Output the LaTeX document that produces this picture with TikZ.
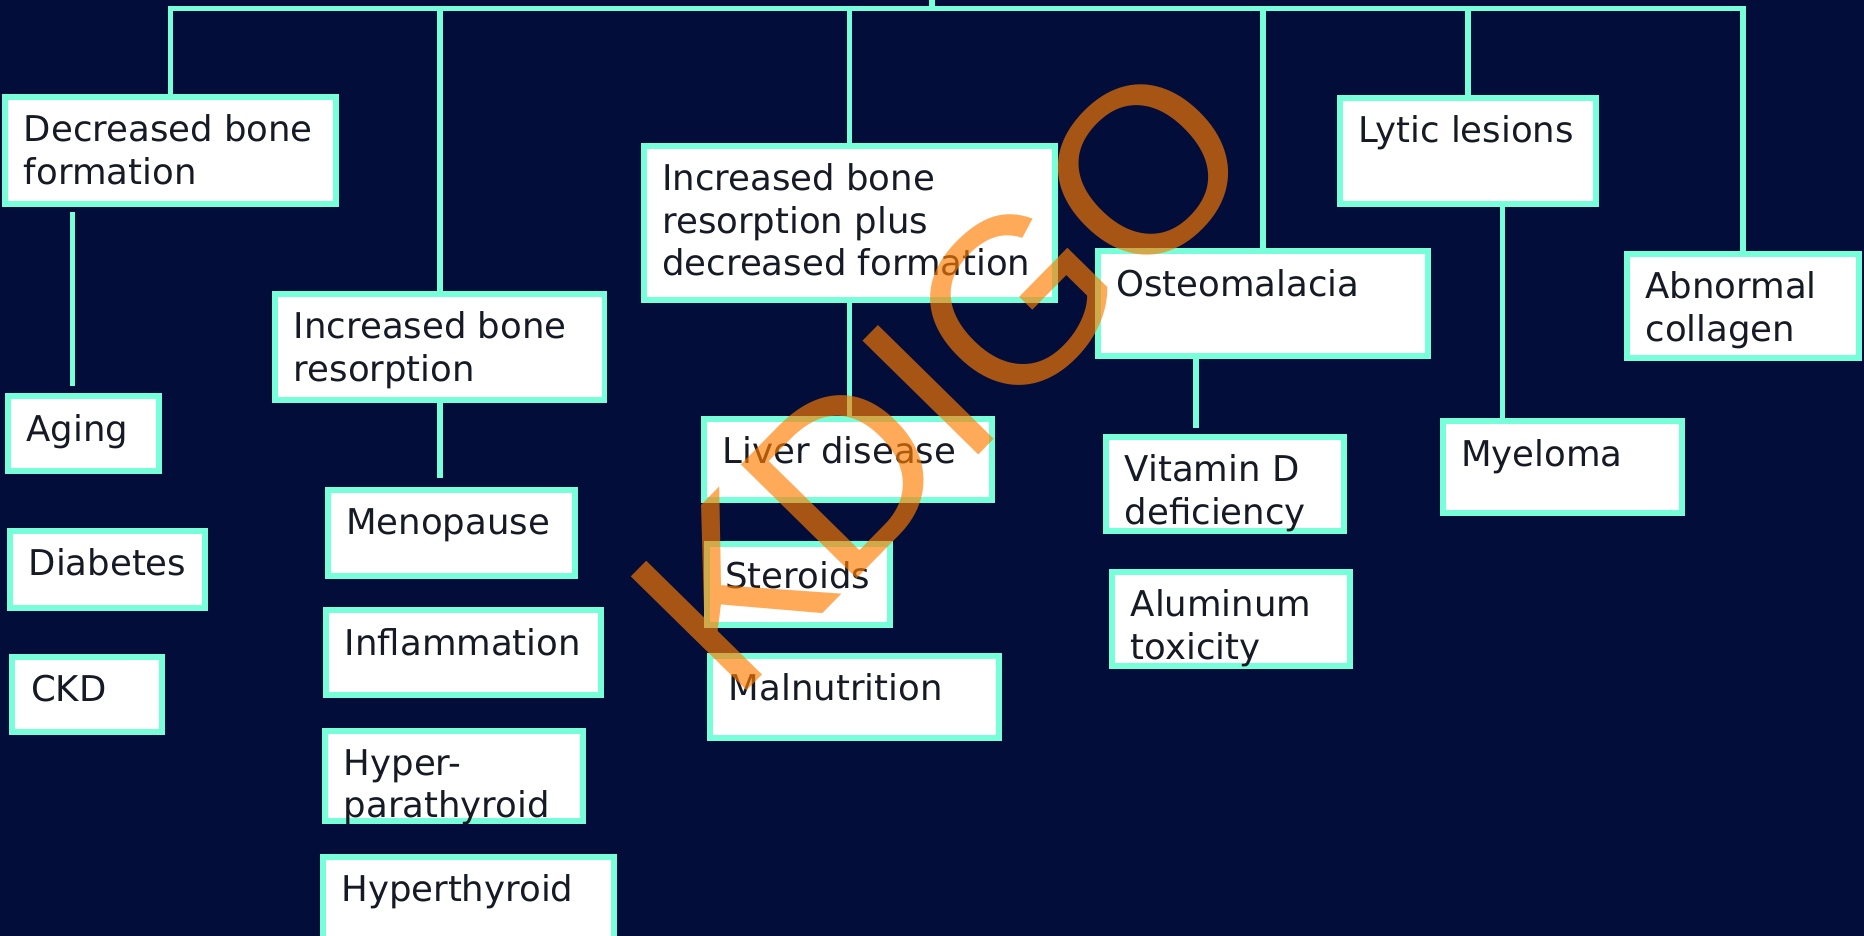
\documentclass[tikz,border=0pt]{standalone}
\usepackage{fontspec}
\setmainfont{DejaVu Sans}
\newfontfamily\wmfont{Liberation Sans}
\usetikzlibrary{fit,calc}
\definecolor{bg}{RGB}{3,13,58}
\definecolor{aqua}{RGB}{118,255,216}
\definecolor{ink}{RGB}{22,26,36}
\definecolor{wm}{RGB}{255,125,0}
\newcommand\mybox[6]{%
  \node[boxst, fit={(#2+2.5,#3+2.5) (#4-2.5,#5-2.5)}] (#1) {};
  \node[txt] (#1-t) at (#2+18,#3+40) {\begin{tabular}[t]{@{}l@{}}#6\end{tabular}};}
\begin{document}
\begin{tikzpicture}[x=1.1888pt,y=-1.1888pt,
  boxst/.style={draw=aqua, fill=white, line width=6pt, inner sep=0pt},
  txt/.style={anchor=base west, inner sep=0pt, text=ink, font=\fontsize{35.5}{42.8}\selectfont},
  ln/.style={draw=aqua, line width=5.5pt}]
\fill[bg, use as bounding box] (0,0) rectangle (1568,787);
\clip (0,0) rectangle (1568,787);

\mybox{dbf}{2}{79}{285}{174}{Decreased bone\\formation}
\mybox{ibr}{229}{245}{511}{339}{Increased bone\\resorption}
\mybox{ibp}{539}{120}{890}{255}{Increased bone\\resorption plus\\decreased formation}
\mybox{ost}{921}{209}{1204}{302}{Osteomalacia}
\mybox{lyt}{1125}{80}{1345}{174}{Lytic lesions}
\mybox{abn}{1366}{211}{1566}{304}{Abnormal\\collagen}
\mybox{age}{4}{331}{136}{399}{Aging}
\mybox{dia}{6}{444}{175}{514}{Diabetes}
\mybox{ckd}{8}{550}{139}{618}{CKD}
\mybox{men}{273}{410}{486}{487}{Menopause}
\mybox{inf}{272}{511}{508}{587}{Inflammation}
\mybox{hpt}{271}{612}{493}{693}{Hyper-\\parathyroid}
\mybox{hth}{269}{718}{519}{800}{Hyperthyroid}
\mybox{liv}{590}{350}{837}{423}{Liver disease}
\mybox{ste}{592}{455}{751}{528}{Steroids}
\mybox{mal}{595}{549}{843}{623}{Malnutrition}
\mybox{vit}{928}{365}{1133}{449}{Vitamin D\\deficiency}
\mybox{alu}{933}{479}{1138}{563}{Aluminum\\toxicity}
\mybox{mye}{1211}{352}{1417}{434}{Myeloma}

\coordinate (hub) at (784,0);
\coordinate (bus) at (784,7);
\draw[ln] (hub) -- (bus);
\draw[ln] (dbf.north) -- (dbf.north |- bus) -- (abn.north |- bus) -- (abn.north);
\draw[ln] (ibr.north) -- (ibr.north |- bus);
\draw[ln] (ibp.north) -- (ibp.north |- bus);
\draw[ln] (ost.north) -- (ost.north |- bus);
\draw[ln] (lyt.north) -- (lyt.north |- bus);

\coordinate (c1) at ($(dbf.south west)+(59,4)$);
\draw[ln, shorten >=7pt] (c1) -- (c1 |- age.north);
\draw[ln, shorten >=9pt] (ibr.south) -- (ibr.south |- men.north);
\draw[ln] (ibp.south) -- (ibp.south |- liv.north);
\coordinate (c2) at ($(ost.south west)+(85,0)$);
\draw[ln, shorten >=6pt] (c2) -- (c2 |- vit.north);
\coordinate (c3) at ($(lyt.south west)+(139,0)$);
\draw[ln] (c3) -- (c3 |- mye.north);

\node[rotate=45.5, text=wm, opacity=0.65, inner sep=0pt,
  font=\wmfont\fontsize{236}{236}\selectfont] (wmk) at (792.5,316.5) {KDIGO};
\end{tikzpicture}
\end{document}
